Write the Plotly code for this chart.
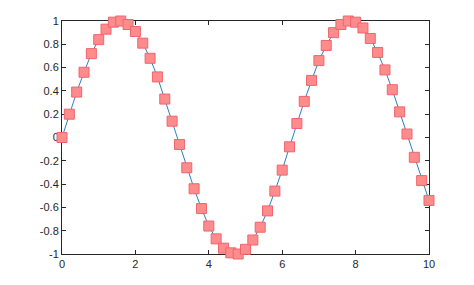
import plotly.graph_objects as go

x_vals = [0.0, 0.2, 0.4, 0.6, 0.8, 1.0, 1.2, 1.4, 1.6, 1.8, 2.0, 2.2, 2.4, 2.6, 2.8, 3.0,
          3.2, 3.4, 3.6, 3.8, 4.0, 4.2, 4.4, 4.6, 4.8, 5.0, 5.2, 5.4, 5.6, 5.8, 6.0,
          6.2, 6.4, 6.6, 6.8, 7.0, 7.2, 7.4, 7.6, 7.8, 8.0, 8.2, 8.4, 8.6, 8.8, 9.0,
          9.2, 9.4, 9.6, 9.8, 10.0]
y_vals = [0.00, 0.20, 0.39, 0.56, 0.72, 0.84, 0.93, 0.99, 1.00, 0.97, 0.91, 0.81, 0.68, 0.52, 0.33, 0.14,
          -0.06, -0.26, -0.44, -0.61, -0.76, -0.87, -0.95, -0.99, -1.00, -0.96, -0.88, -0.77, -0.63, -0.46, -0.28,
          -0.08, 0.12, 0.31, 0.49, 0.66, 0.79, 0.90, 0.97, 1.00, 0.99, 0.94, 0.85, 0.73, 0.58, 0.41,
          0.22, 0.03, -0.17, -0.37, -0.54]

x_ticks = [0, 2, 4, 6, 8, 10]
x_tick_labels = ["0", "2", "4", "6", "8", "10"]
y_ticks = [-1, -0.8, -0.6, -0.4, -0.2, 0, 0.2, 0.4, 0.6, 0.8, 1]
y_tick_labels = ["-1", "-0.8", "-0.6", "-0.4", "-0.2", "0", "0.2", "0.4", "0.6", "0.8", "1"]

fig = go.Figure()
fig.add_trace(go.Scatter(
    x=x_vals, y=y_vals, mode="lines+markers",
    line=dict(color="#2b7fc0", width=1),
    marker=dict(symbol="square", size=10, color="rgb(255,140,140)",
                line=dict(color="rgb(240,100,110)", width=1)),
    cliponaxis=False,
))

axis_common = dict(
    showline=True, linecolor="#262626", linewidth=1, mirror="ticks",
    ticks="inside", ticklen=4, tickcolor="#262626", tickwidth=1,
    showgrid=False, zeroline=False, layer="below traces",
    tickfont=dict(family="Liberation Sans, Arial", size=11, color="#262626"),
)

fig.update_layout(
    width=474, height=285,
    margin=dict(l=62, r=45, t=21, b=31),
    paper_bgcolor="white", plot_bgcolor="white",
    showlegend=False,
    xaxis=dict(range=[0, 10], tickvals=x_ticks, ticktext=x_tick_labels, **axis_common),
    yaxis=dict(range=[-1, 1], tickvals=y_ticks, ticktext=y_tick_labels, **axis_common),
)

fig.write_html("out.html")
